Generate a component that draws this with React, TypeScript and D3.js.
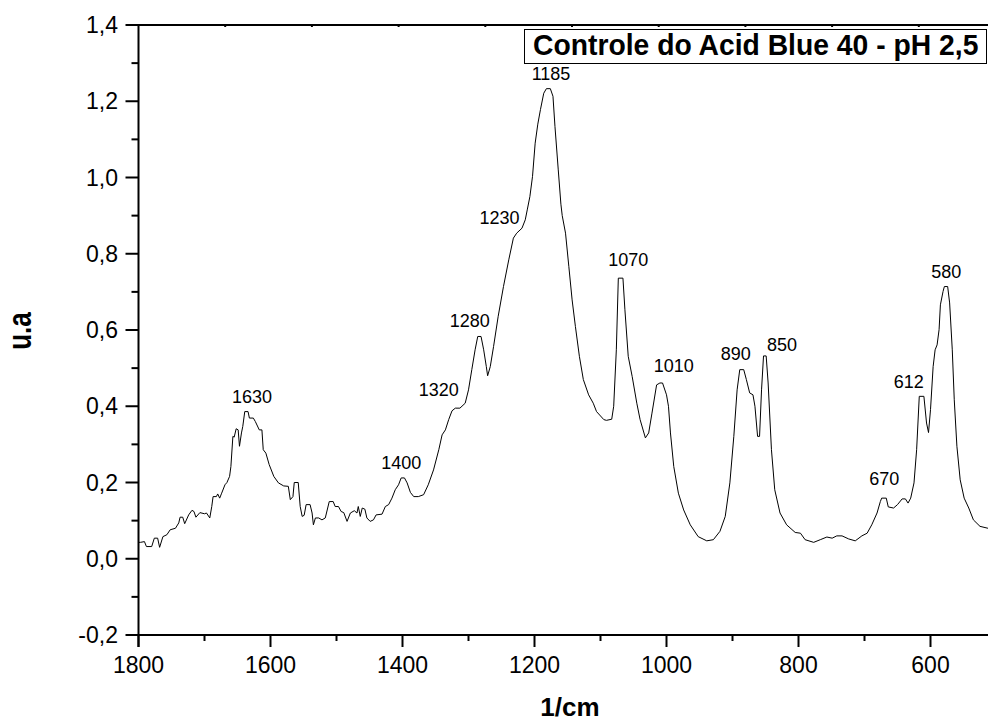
import React from "react";
import * as d3 from "d3";

const wavenumber = [
  1800, 1797, 1791, 1788, 1780, 1776, 1771, 1768, 1763, 1757, 1752, 1744, 1739, 1737, 1733, 1730, 1724, 1719, 1716, 1713,
  1707, 1700, 1697, 1692, 1689, 1687, 1682, 1680, 1677, 1674, 1669, 1666, 1662, 1660, 1657, 1655, 1652, 1649, 1647, 1644,
  1642, 1639, 1634, 1632, 1626, 1623, 1617, 1613, 1611, 1607, 1602, 1595, 1588, 1580, 1573, 1570, 1566, 1564, 1558, 1555,
  1552, 1549, 1546, 1540, 1537, 1535, 1532, 1527, 1522, 1517, 1511, 1505, 1502, 1497, 1493, 1489, 1484, 1479, 1473, 1469,
  1467, 1464, 1461, 1457, 1454, 1449, 1444, 1440, 1431, 1426, 1421, 1416, 1411, 1406, 1402, 1397, 1393, 1388, 1383, 1376,
  1368, 1361, 1353, 1345, 1340, 1335, 1330, 1325, 1320, 1313, 1305, 1300, 1295, 1290, 1286, 1281, 1277, 1273, 1271, 1267,
  1262, 1255, 1247, 1239, 1232, 1227, 1219, 1214, 1211, 1207, 1203, 1199, 1195, 1191, 1186, 1182, 1176, 1172, 1169, 1164,
  1160, 1158, 1153, 1148, 1143, 1138, 1132, 1126, 1118, 1111, 1106, 1095, 1091, 1083, 1080, 1076, 1073, 1066, 1063, 1058,
  1052, 1045, 1040, 1032, 1027, 1022, 1015, 1010, 1006, 1000, 997, 994, 989, 982, 974, 964, 952, 939, 929, 919,
  911, 904, 898, 893, 889, 883, 879, 874, 869, 866, 862, 859, 856, 853, 849, 846, 841, 836, 828, 818,
  805, 797, 790, 777, 767, 757, 749, 742, 734, 724, 714, 704, 696, 689, 681, 676, 674, 667, 664, 656,
  650, 643, 638, 634, 630, 625, 621, 617, 610, 606, 603, 600, 596, 593, 590, 587, 585, 581, 579, 574,
  571, 567, 564, 560, 555, 549, 542, 535, 525, 513, 500,
];

const absorbance = [
  0.043, 0.043, 0.045, 0.032, 0.032, 0.054, 0.054, 0.030, 0.058, 0.063, 0.076, 0.080, 0.094, 0.109, 0.109, 0.092, 0.115, 0.127, 0.124, 0.109,
  0.121, 0.118, 0.120, 0.107, 0.137, 0.163, 0.163, 0.170, 0.159, 0.172, 0.194, 0.200, 0.216, 0.242, 0.321, 0.319, 0.341, 0.338, 0.295, 0.330,
  0.347, 0.386, 0.386, 0.369, 0.369, 0.360, 0.338, 0.338, 0.286, 0.277, 0.247, 0.216, 0.199, 0.191, 0.190, 0.155, 0.163, 0.200, 0.200, 0.137,
  0.111, 0.114, 0.142, 0.142, 0.120, 0.089, 0.107, 0.107, 0.102, 0.107, 0.150, 0.150, 0.137, 0.137, 0.124, 0.121, 0.098, 0.120, 0.126, 0.120,
  0.137, 0.111, 0.133, 0.130, 0.107, 0.098, 0.102, 0.115, 0.117, 0.137, 0.142, 0.159, 0.181, 0.194, 0.212, 0.212, 0.199, 0.174, 0.163, 0.163,
  0.168, 0.194, 0.233, 0.286, 0.325, 0.338, 0.365, 0.388, 0.395, 0.395, 0.408, 0.443, 0.496, 0.548, 0.583, 0.583, 0.548, 0.504, 0.480, 0.504,
  0.557, 0.636, 0.714, 0.784, 0.841, 0.854, 0.867, 0.889, 0.915, 0.950, 1.003, 1.090, 1.140, 1.178, 1.221, 1.233, 1.233, 1.213, 1.134, 1.020,
  0.930, 0.900, 0.854, 0.767, 0.679, 0.609, 0.531, 0.470, 0.430, 0.408, 0.386, 0.365, 0.363, 0.366, 0.400, 0.548, 0.736, 0.736, 0.653, 0.531,
  0.478, 0.408, 0.365, 0.317, 0.330, 0.382, 0.456, 0.461, 0.461, 0.430, 0.400, 0.330, 0.242, 0.172, 0.128, 0.089, 0.058, 0.047, 0.050, 0.072,
  0.111, 0.199, 0.321, 0.443, 0.496, 0.496, 0.470, 0.435, 0.430, 0.400, 0.321, 0.321, 0.443, 0.532, 0.532, 0.461, 0.286, 0.181, 0.120, 0.089,
  0.069, 0.067, 0.050, 0.043, 0.050, 0.057, 0.054, 0.060, 0.060, 0.052, 0.047, 0.060, 0.067, 0.089, 0.120, 0.150, 0.159, 0.159, 0.136, 0.133,
  0.142, 0.157, 0.157, 0.146, 0.159, 0.199, 0.286, 0.426, 0.426, 0.356, 0.331, 0.391, 0.504, 0.548, 0.561, 0.601, 0.666, 0.701, 0.714, 0.714,
  0.671, 0.548, 0.417, 0.295, 0.207, 0.159, 0.133, 0.102, 0.085, 0.080, 0.078,
];

const peakLabels = ["1630", "1400", "1320", "1280", "1230", "1185", "1070", "1010", "890", "850", "670", "612", "580"];
const peakLabelX = [1628, 1402, 1345, 1298, 1253, 1175, 1058, 989, 895, 825, 670, 633, 576];
const peakLabelY = [0.409, 0.236, 0.426, 0.609, 0.879, 1.257, 0.767, 0.489, 0.522, 0.544, 0.194, 0.449, 0.736];

const xTicks = [1800, 1600, 1400, 1200, 1000, 800, 600];
const xMinorTicks = [1700, 1500, 1300, 1100, 900, 700, 500];
const yTicks = [-0.2, 0, 0.2, 0.4, 0.6, 0.8, 1.0, 1.2, 1.4];
const yMinorTicks = [-0.1, 0.1, 0.3, 0.5, 0.7, 0.9, 1.1, 1.3];
const topMarks = [1, 2, 3, 4, 5, 6, 7, 8, 9];

const title = "Controle do Acid Blue 40 - pH 2,5";
const xLabel = "1/cm";
const yLabel = "u.a";

const FONT = "'Liberation Sans', Arial, Helvetica, sans-serif";

export default function App() {
  const W = 988;
  const H = 722;
  const left = 138.5;
  const right = 996.5;
  const top = 25;
  const bottom = 635;

  const x = d3.scaleLinear().domain([1800, 500]).range([left, right]);
  const y = d3.scaleLinear().domain([-0.2, 1.4]).range([bottom, top]);
  const topScale = d3.scaleLinear().domain([0, 10]).range([left, left + 867]);

  const pts: [number, number][] = wavenumber.map((w, i) => [w, absorbance[i]]);
  const line = d3
    .line<[number, number]>()
    .x((d) => x(d[0]))
    .y((d) => y(d[1]));

  const fmt = (v: number) => v.toFixed(1).replace(".", ",");

  return (
    <svg
      width={W}
      height={H}
      viewBox={`0 0 ${W} ${H}`}
      style={{ position: "absolute", left: 0, top: 0, background: "#fff" }}
    >
      <rect x={0} y={0} width={W} height={H} fill="#fff" />
      {/* spectrum */}
      <path d={line(pts) || ""} fill="none" stroke="#000" strokeWidth={1} strokeLinejoin="round" />

      {/* axes lines */}
      <line x1={left} y1={top} x2={left} y2={bottom + 12} stroke="#000" strokeWidth={2} />
      <line x1={left - 1} y1={bottom} x2={W + 10} y2={bottom} stroke="#000" strokeWidth={2} />
      <line x1={left - 1} y1={top} x2={W + 10} y2={top} stroke="#000" strokeWidth={2} />
      {topMarks.map((k) => (
        <rect key={"tm" + k} x={topScale(k) - 1} y={top - 1} width={2} height={3} fill="#000" />
      ))}

      {/* x ticks */}
      {xTicks.map((t) => (
        <g key={"xt" + t}>
          <line x1={x(t)} y1={bottom} x2={x(t)} y2={bottom + 12} stroke="#000" strokeWidth={2} />
          <text x={x(t)} y={673} textAnchor="middle" fontFamily={FONT} fontSize={23} fill="#000">
            {t}
          </text>
        </g>
      ))}
      {xMinorTicks.map((t) => (
        <line key={"xm" + t} x1={x(t)} y1={bottom} x2={x(t)} y2={bottom + 6} stroke="#000" strokeWidth={2} />
      ))}

      {/* y ticks */}
      {yTicks.map((t) => (
        <g key={"yt" + t}>
          <line x1={left - 13} y1={y(t)} x2={left} y2={y(t)} stroke="#000" strokeWidth={2} />
          <text x={118} y={y(t) + 8} textAnchor="end" fontFamily={FONT} fontSize={23} fill="#000">
            {fmt(t)}
          </text>
        </g>
      ))}
      {yMinorTicks.map((t) => (
        <line key={"ym" + t} x1={left - 7} y1={y(t)} x2={left} y2={y(t)} stroke="#000" strokeWidth={2} />
      ))}

      {/* peak labels */}
      {peakLabels.map((lab, i) => (
        <text
          key={"pl" + lab}
          x={x(peakLabelX[i])}
          y={y(peakLabelY[i])}
          textAnchor="middle"
          fontFamily={FONT}
          fontSize={18}
          fill="#000"
        >
          {lab}
        </text>
      ))}

      {/* title box */}
      <rect x={524.5} y={29.5} width={462} height={34} fill="#fff" stroke="#000" strokeWidth={1} />
      <text
        transform="translate(533,55) scale(1,1.07)"
        fontFamily={FONT}
        fontWeight="bold"
        fontSize={28.3}
        fill="#000"
      >
        {title}
      </text>

      {/* axis titles */}
      <text x={570} y={716} textAnchor="middle" fontFamily={FONT} fontWeight="bold" fontSize={26} fill="#000">
        {xLabel}
      </text>
      <text
        transform={`translate(31,331) rotate(-90) scale(1,1.3)`}
        textAnchor="middle"
        fontFamily={FONT}
        fontWeight="bold"
        fontSize={26}
        fill="#000"
      >
        {yLabel}
      </text>
    </svg>
  );
}
